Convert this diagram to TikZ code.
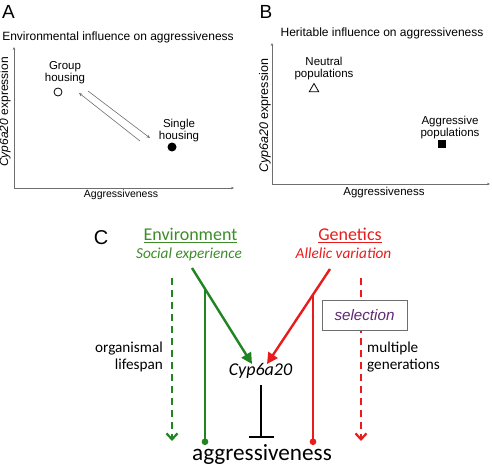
\documentclass[tikz,border=0pt]{standalone}
\usepackage{fontspec}
\setmainfont{Carlito}
\newfontfamily\arial{Liberation Sans}
\usetikzlibrary{arrows.meta,shapes.geometric}
\definecolor{grn}{RGB}{32,132,32}
\definecolor{grntxt}{RGB}{60,140,40}
\definecolor{rd}{RGB}{232,28,28}
\definecolor{prp}{RGB}{95,40,115}
\definecolor{axgray}{RGB}{110,110,110}
\begin{document}
\begin{tikzpicture}[x=1pt,y=-1pt,
  panel/.style={font=\arial\fontsize{19}{22}\selectfont, inner sep=0pt},
  lbl/.style={font=\arial\fontsize{11.5}{12}\selectfont, align=center, inner sep=0pt},
  ttl/.style={font=\arial\fontsize{12}{14}\selectfont, inner sep=0pt},
  axisline/.style={draw=axgray, line width=0.8pt, -{Stealth[length=3pt,width=2.6pt]}},
  thinarr/.style={draw=axgray, line width=0.6pt, -{Stealth[length=3.5pt,width=3pt]}},
  ctext/.style={inner sep=0pt, anchor=base},
  thick green/.style={draw=grn, line width=2.4pt},
  thick red/.style={draw=rd, line width=2.4pt},
  dasharr/.style={line width=2.4pt, dash pattern=on 7pt off 5pt, -{Straight Barb[length=6pt,width=11pt,line width=2.2pt]}},
  headarr/.style={-{Triangle[length=11pt,width=11pt]}},
  dotend/.style={-{Circle[length=6.5pt]}}
]
\useasboundingbox (0,0) rectangle (492,468);

% ---------------- Panel A ----------------
\node[panel] (lA) at (8.5,12) {A};
\node[ttl] (tA) at (118,37) {Environmental influence on aggressiveness};
\coordinate (oA) at (14,188);
\coordinate (yA) at (14,47);
\coordinate (xA) at (234,188);
\draw[axisline] (oA) -- (yA);
\draw[axisline] (oA) -- (xA);
\node[ttl, rotate=90] (ylA) at (5,112) {\itshape Cyp6a20\upshape\ expression};
\node[lbl, font=\arial\fontsize{10.5}{12}\selectfont] (xlA) at (121,195) {Aggressiveness};
\node[lbl] (gh) at (65,73) {Group\\housing};
\node[circle, draw=black, line width=0.8pt, inner sep=0pt, minimum size=8pt] (ghp) at (58,92) {};
\node[lbl] (sh) at (179,131) {Single\\housing};
\node[circle, fill=black, inner sep=0pt, minimum size=9pt] (shp) at (172,147) {};
\coordinate (a1s) at (88,91);
\coordinate (a1e) at (150,138);
\coordinate (a2s) at (140,141);
\coordinate (a2e) at (79,93);
\draw[thinarr] (a1s) -- (a1e);
\draw[thinarr] (a2s) -- (a2e);

% ---------------- Panel B ----------------
\node[panel] (lB) at (266,12) {B};
\node[ttl] (tB) at (382,33) {Heritable influence on aggressiveness};
\coordinate (oB) at (272,184);
\coordinate (yB) at (272,43);
\coordinate (xB) at (490,184);
\draw[axisline] (oB) -- (yB);
\draw[axisline] (oB) -- (xB);
\node[ttl, rotate=90, font=\arial\fontsize{12.5}{14}\selectfont] (ylB) at (265,116) {\itshape Cyp6a20\upshape\ expression};
\node[lbl] (xlB) at (384,193) {Aggressiveness};
\node[lbl] (np) at (324,69) {Neutral\\populations};
\node[draw=black, line width=0.8pt, regular polygon, regular polygon sides=3, inner sep=0pt, minimum size=11pt] (npp) at (314,89) {};
\node[lbl] (ap) at (450,128) {Aggressive\\populations};
\node[fill=black, inner sep=0pt, minimum size=8.5pt] (app) at (442,144) {};

% ---------------- Panel C ----------------
\node[panel, font=\arial\fontsize{20}{22}\selectfont] (lC) at (101,237.5) {C};
\node[ctext, text=grntxt, font=\fontsize{18}{20}\selectfont] (env) at (190.5,240.5) {\underline{Environment}};
\node[ctext, text=grntxt, font=\fontsize{15.3}{17}\selectfont\itshape] (soc) at (189,258.5) {Social experience};
\node[ctext, text=rd, font=\fontsize{18}{20}\selectfont] (gen) at (350,240.5) {\underline{Genetics}};
\node[ctext, text=rd, font=\fontsize{15.3}{17}\selectfont\itshape] (all) at (343.5,258.5) {Allelic variation};

\node[ctext, font=\fontsize{18}{20}\selectfont\itshape] (cyp) at (260.5,375) {Cyp6a20};
\node[ctext, font=\fontsize{23.2}{26}\selectfont] (agg) at (262,460.5) {aggressiveness};

\node[ctext, anchor=base east, font=\fontsize{15.2}{17}\selectfont] (org) at (163,352) {organismal};
\node[ctext, anchor=base east, font=\fontsize{15.2}{17}\selectfont] (life) at (163,369.5) {lifespan};
\node[ctext, anchor=base west, font=\fontsize{15.2}{17}\selectfont] (mul) at (367,352) {multiple};
\node[ctext, anchor=base west, font=\fontsize{15.2}{17}\selectfont] (gens) at (367,369.5) {generations};

% dashed time arrows
\coordinate (gdS) at (172,278);
\coordinate (gdE) at (172,441);
\coordinate (rdS) at (361,278);
\coordinate (rdE) at (361,441);
\draw[dasharr, draw=grn] (gdS) -- (gdE);
\draw[dasharr, draw=rd] (rdS) -- (rdE);

% selection box (covers the red dashed line)
\node[draw=axgray, line width=0.8pt, fill=white, minimum width=85pt, minimum height=30pt, inner sep=0pt,
      text=prp, font=\arial\fontsize{15.2}{17}\selectfont\itshape] (sel) at (364.5,315) {selection};

% green branch
\coordinate (gS) at (192,268);
\coordinate (gE) at (252,364);
\coordinate (gV) at (205,288);
\coordinate (gD) at (205,445);
\draw[thick green, headarr] (gS) -- (gE);
\draw[thick green, dotend] (gV) -- (gD);

% red branch
\coordinate (rS) at (330,269);
\coordinate (rE) at (267,364);
\coordinate (rV) at (313,294);
\coordinate (rD) at (313,445);
\draw[thick red, headarr] (rS) -- (rE);
\draw[thick red, dotend] (rV) -- (rD);

% inhibition
\coordinate (iS) at (261,385);
\coordinate (iE) at (261,438);
\draw[line width=2pt, -{Bar[width=25pt,line width=2.2pt]}] (iS) -- (iE);
\end{tikzpicture}
\end{document}
